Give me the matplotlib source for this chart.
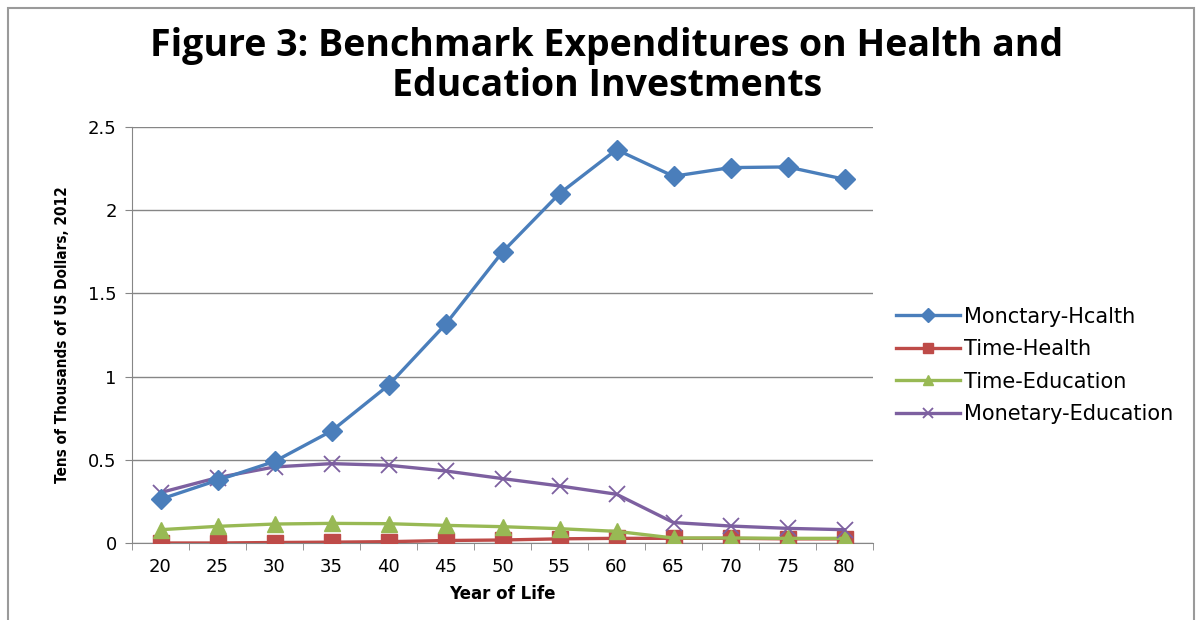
import matplotlib
matplotlib.use("Agg")
import matplotlib.pyplot as plt
from matplotlib.patches import Rectangle

years = [20, 25, 30, 35, 40, 45, 50, 55, 60, 65, 70, 75, 80]
monetary_health = [0.263, 0.377, 0.49, 0.673, 0.948, 1.314, 1.749, 2.10, 2.364, 2.204, 2.256, 2.26, 2.186]
time_health = [0.0, 0.0, 0.003, 0.005, 0.008, 0.015, 0.018, 0.025, 0.028, 0.028, 0.028, 0.025, 0.025]
time_education = [0.08, 0.10, 0.114, 0.118, 0.116, 0.106, 0.098, 0.086, 0.07, 0.03, 0.03, 0.028, 0.028]
monetary_education = [0.303, 0.393, 0.457, 0.477, 0.467, 0.433, 0.387, 0.343, 0.293, 0.123, 0.102, 0.088, 0.08]
series_names = ["Monctary-Hcalth", "Time-Health", "Time-Education", "Monetary-Education"]
y_ticks = [0, 0.5, 1, 1.5, 2, 2.5]
y_tick_labels = ["0", "0.5", "1", "1.5", "2", "2.5"]

fig = plt.figure(figsize=(12, 6.2), dpi=100)
fig.patches.append(Rectangle((8 / 1200, -0.01), 1186 / 1200, (620 - 8) / 620 + 0.01, transform=fig.transFigure,
                             fill=False, edgecolor="#9a9a9a", linewidth=1.5))

ax = fig.add_axes([132 / 1200, (620 - 543) / 620, 741 / 1200, (543 - 127) / 620])
x = list(range(len(years)))

ax.plot(x, monetary_health, color="#4A7EBB", lw=2.4, marker="D", ms=10, label=series_names[0], zorder=5)
ax.plot(x, time_health, color="#BE4B48", lw=2.4, marker="s", ms=11, label=series_names[1], zorder=3)
ax.plot(x, time_education, color="#98B954", lw=2.4, marker="^", ms=11, label=series_names[2], zorder=4)
ax.plot(x, monetary_education, color="#7D60A0", lw=2.4, marker="x", ms=11, mew=1.3, label=series_names[3], zorder=4)

ax.set_xlim(-0.5, len(years) - 0.5)
ax.set_ylim(0, 2.5)
ax.set_yticks(y_ticks)
ax.set_yticklabels(y_tick_labels, fontsize=13)
ax.set_xticks(x)
ax.set_xticklabels([str(y) for y in years], fontsize=13)
ax.set_xticks([i - 0.5 for i in range(len(years) + 1)], minor=True)
ax.tick_params(axis="x", which="major", length=0, pad=11)
ax.tick_params(axis="x", which="minor", length=5, color="#868686", direction="out")
ax.tick_params(axis="y", length=5, color="#868686", pad=6)
ax.grid(axis="y", color="#868686", lw=1)
ax.set_axisbelow(True)
for s in ["top", "right"]:
    ax.spines[s].set_visible(False)
for s in ["left", "bottom"]:
    ax.spines[s].set_color("#868686")
ax.set_xlabel("Year of Life", fontsize=12, fontweight="bold", labelpad=6)
ax.set_ylabel("Tens of Thousands of US Dollars, 2012", fontsize=11, fontweight="bold",
              fontstretch="condensed", labelpad=13)

fig.text(607 / 1200, 1 - 66 / 620, "Figure 3: Benchmark Expenditures on Health and\nEducation Investments",
         ha="center", va="center", fontsize=27, fontweight="bold", family="Open Sans", linespacing=1.1)

leg = fig.legend(loc="upper left", bbox_to_anchor=(877 / 1200, 1 - 288 / 620), frameon=False,
                 fontsize=15, handlelength=3.1, labelspacing=0.6, handletextpad=0.2, markerscale=0.7)

fig.savefig("out.png", dpi=100)
